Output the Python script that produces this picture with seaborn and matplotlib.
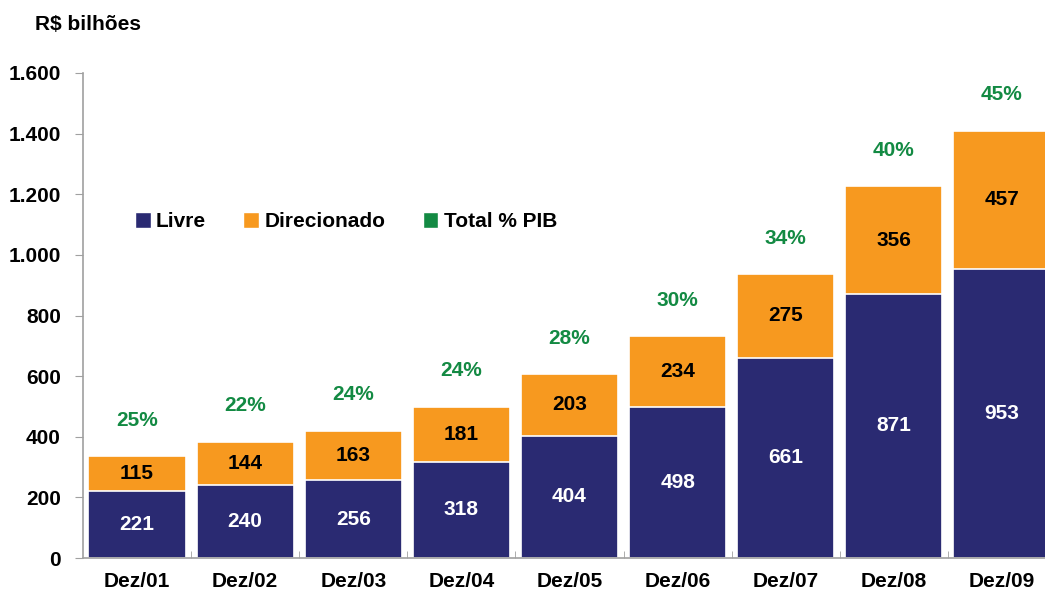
import numpy as np
import pandas as pd
import matplotlib
matplotlib.use("Agg")
import matplotlib.pyplot as plt
import seaborn as sns
from matplotlib.patches import Patch

# dados (R$ bilhões)
periodos = ["Dez/01", "Dez/02", "Dez/03", "Dez/04", "Dez/05", "Dez/06", "Dez/07", "Dez/08", "Dez/09"]
livre = [221, 240, 256, 318, 404, 498, 661, 871, 953]
direcionado = [115, 144, 163, 181, 203, 234, 275, 356, 457]
pib_pct = [25, 22, 24, 24, 28, 30, 34, 40, 45]

cor_livre = "#2A2A72"
cor_dir = "#F7991F"
cor_pib = "#138A43"
cor_eixo = "#A0A0A0"

sns.set_style("white")
plt.rcParams['font.family'] = ['Liberation Sans', 'DejaVu Sans']
plt.rcParams['font.weight'] = 'bold'
plt.rcParams['text.color'] = 'black'

df = pd.DataFrame({"periodo": periodos, "livre": livre, "direcionado": direcionado})
df["total"] = df["livre"] + df["direcionado"]

fig = plt.figure(figsize=(10.45, 6.04), dpi=100)
ax = fig.add_axes([83 / 1045, 1 - 558 / 604, (1056 - 83) / 1045, (558 - 73) / 604])

sns.barplot(data=df, x="periodo", y="total", color=cor_dir, width=0.9,
            edgecolor="white", linewidth=1.2, saturation=1, ax=ax)
sns.barplot(data=df, x="periodo", y="livre", color=cor_livre, width=0.9,
            edgecolor="white", linewidth=1.2, saturation=1, ax=ax)

fs = 15
for i, row in df.iterrows():
    ax.text(i, row["livre"] / 2, f"{row['livre']}", ha="center", va="center",
            color="white", fontsize=fs, fontweight="bold")
    ax.text(i, row["livre"] + row["direcionado"] / 2, f"{row['direcionado']}",
            ha="center", va="center", color="black", fontsize=fs, fontweight="bold")
    ax.annotate(f"{pib_pct[i]}%", (i, row["total"]), xytext=(0, 36),
                textcoords="offset pixels", ha="center", va="center",
                color=cor_pib, fontsize=fs, fontweight="bold")

ax.set_xlim(-0.5, 8.5)
ax.set_ylim(0, 1600)
ax.set_yticks(range(0, 1601, 200))
ax.set_yticklabels([f"{v:,}".replace(",", ".") for v in range(0, 1601, 200)])
ax.set_xlabel("")
ax.set_ylabel("")

for s in ["top", "right"]:
    ax.spines[s].set_visible(False)
for s in ["left", "bottom"]:
    ax.spines[s].set_color(cor_eixo)
    ax.spines[s].set_linewidth(1.2)

ax.tick_params(axis="y", which="major", direction="out", length=6, color=cor_eixo,
               labelsize=fs, labelcolor="black", pad=10, left=True)
ax.tick_params(axis="x", which="major", length=0, labelsize=fs, labelcolor="black", pad=10)
ax.set_xticks(np.arange(0.5, 8.5, 1), minor=True)
ax.tick_params(axis="x", which="minor", direction="in", length=5, color=cor_eixo,
               bottom=True)
for lbl in ax.get_xticklabels() + ax.get_yticklabels():
    lbl.set_fontweight("bold")

handles = [Patch(facecolor=cor_livre, label="Livre"),
           Patch(facecolor=cor_dir, label="Direcionado"),
           Patch(facecolor=cor_pib, label="Total % PIB")]
ax.legend(handles=handles, loc="center left", bbox_to_anchor=(52 / 973, 0.693), ncol=3,
          frameon=False, fontsize=fs, handlelength=0.75, handleheight=0.75,
          handletextpad=0.25, columnspacing=1.8, borderpad=0, borderaxespad=0)

fig.text(35 / 1045, 1 - 24 / 604, "R$ bilhões", ha="left", va="center",
         fontsize=fs, fontweight="bold")

fig.savefig("out.png", dpi=100)
